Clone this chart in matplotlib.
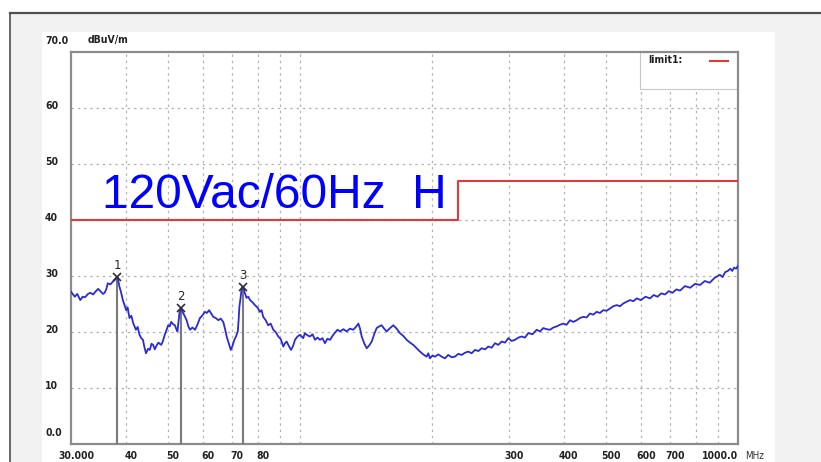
import matplotlib
matplotlib.use('Agg')
import matplotlib.pyplot as plt
import matplotlib.transforms as mtransforms
from matplotlib.lines import Line2D
from matplotlib.patches import Rectangle
from matplotlib.ticker import NullLocator

# Radiated emission scan, horizontal antenna (MHz, dBuV/m).
freq_mhz = [
    30.0, 30.6, 31.0, 31.5, 31.9, 32.3, 32.8, 33.2, 33.7, 34.2, 34.6, 35.1,
    35.5, 35.8, 36.1, 36.4, 36.9, 37.4, 37.9, 38.3, 38.7, 39.0, 39.4, 40.1,
    40.4, 40.8, 41.2, 41.6, 42.2, 42.6, 43.0, 43.4, 43.8, 44.1, 44.5, 45.0,
    45.4, 45.8, 46.2, 46.6, 46.9, 47.5, 48.2, 48.6, 49.1, 49.6, 50.0, 50.4,
    50.8, 51.3, 51.8, 52.2, 52.5, 52.8, 53.1, 53.5, 54.0, 54.5, 55.1, 55.6,
    56.1, 56.8, 57.6, 58.3, 59.1, 59.9, 60.7, 61.3, 62.0, 62.7, 63.4, 64.2,
    65.1, 65.9, 66.8, 67.4, 68.0, 68.8, 69.5, 70.1, 70.8, 71.5, 72.1, 72.4,
    72.7, 73.2, 73.6, 74.2, 74.8, 75.5, 76.2, 76.9, 77.9, 78.9, 79.9, 81.0,
    81.7, 82.4, 83.5, 84.6, 85.7, 86.9, 88.0, 89.2, 90.4, 91.6, 92.4, 93.2,
    94.3, 95.4, 96.4, 97.4, 98.7, 100.0, 101.7, 102.6, 104.0, 105.4, 106.8,
    108.2, 109.6, 111.1, 112.5, 114.0, 115.5, 117.1, 118.6, 120.2, 121.8,
    123.4, 125.6, 127.8, 130.0, 132.3, 134.1, 135.9, 137.1, 138.3, 140.1,
    142.0, 143.9, 145.8, 147.7, 149.6, 151.6, 153.6, 155.6, 157.7, 160.5,
    163.3, 166.2, 169.1, 172.1, 175.2, 178.3, 181.4, 184.6, 187.9, 191.2,
    194.6, 196.3, 198.0, 200.6, 203.3, 206.9, 210.5, 214.2, 218.0, 221.9,
    225.8, 229.8, 233.9, 238.0, 242.2, 246.5, 250.9, 255.4, 259.9, 264.5,
    269.1, 273.9, 278.7, 283.7, 288.7, 293.8, 298.9, 304.2, 309.6, 315.1,
    320.7, 326.3, 332.0, 339.5, 347.0, 353.1, 359.3, 365.6, 372.1, 378.8,
    385.5, 392.3, 399.1, 406.2, 413.4, 420.8, 428.2, 435.7, 443.3, 451.2,
    459.2, 467.3, 475.6, 484.0, 492.5, 501.3, 510.2, 519.2, 528.4, 537.7,
    547.2, 556.9, 566.8, 576.8, 587.1, 600.0, 615.0, 629.7, 642.0, 655.0,
    668.0, 681.4, 695.0, 708.8, 723.0, 737.3, 757.0, 777.5, 798.0, 819.1,
    840.0, 862.0, 885.0, 909.8, 922.0, 935.0, 948.0, 960.0, 970.0, 980.0,
    990.0, 1000.0,
]
level_dbuv = [
    27.2, 26.3, 26.8, 25.7, 26.3, 26.2, 26.8, 27.0, 26.7, 27.3, 27.7, 27.2,
    26.8, 27.0, 27.6, 28.7, 28.5, 29.0, 29.4, 29.9, 28.1, 27.2, 25.7, 23.9,
    24.4, 22.5, 22.9, 21.6, 20.4, 20.9, 19.5, 18.9, 18.6, 17.4, 16.2, 17.0,
    16.8, 17.9, 17.7, 16.9, 17.4, 18.1, 17.7, 18.3, 19.5, 20.4, 21.2, 21.0,
    21.8, 21.4, 21.2, 20.5, 20.1, 21.9, 23.6, 24.3, 23.5, 22.9, 22.1, 21.0,
    20.4, 20.8, 20.4, 21.3, 22.5, 23.0, 23.6, 23.4, 23.9, 23.3, 22.7, 22.5,
    22.1, 22.4, 21.8, 20.6, 19.2, 17.9, 16.8, 17.5, 18.6, 19.3, 20.1, 22.0,
    24.5, 26.2, 27.9, 28.1, 27.0, 26.1, 26.3, 25.7, 25.3, 24.8, 24.4, 23.6,
    23.9, 22.7, 22.1, 21.2, 21.5, 20.4, 20.0, 19.2, 18.7, 17.4, 18.0, 18.3,
    17.5, 16.8, 17.5, 18.6, 19.2, 19.5, 18.9, 19.8, 19.4, 19.2, 19.6,
    18.6, 19.0, 18.6, 18.9, 18.0, 18.8, 18.6, 19.3, 19.9, 20.4,
    20.1, 20.5, 20.1, 20.6, 20.4, 20.9, 21.5, 20.6, 19.2, 18.0,
    17.1, 17.6, 18.3, 19.6, 20.7, 21.0, 21.2, 20.6, 20.1, 20.7,
    21.2, 20.6, 19.8, 19.3, 18.6, 18.1, 17.7, 17.1, 16.5, 16.0,
    15.6, 16.2, 15.3, 15.8, 15.6, 16.0, 15.6, 15.3, 15.9, 15.5,
    15.6, 16.1, 15.9, 16.3, 16.5, 16.2, 16.8, 16.6, 17.1, 16.9,
    17.4, 17.2, 18.0, 17.7, 18.3, 18.1, 18.9, 18.4, 18.6, 19.0,
    19.2, 19.0, 19.8, 19.6, 20.4, 20.1, 20.7, 20.5, 20.4, 20.8,
    21.0, 21.3, 21.5, 21.3, 22.1, 21.8, 22.1, 22.5, 22.7, 22.6,
    23.3, 23.1, 23.6, 23.4, 23.9, 23.8, 24.2, 24.6, 24.8, 24.6,
    25.1, 25.4, 25.7, 25.5, 26.0, 25.7, 26.3, 26.0, 26.6, 26.3,
    26.9, 26.7, 27.3, 27.0, 27.6, 27.4, 28.2, 27.9, 28.6, 28.4,
    29.1, 28.8, 29.7, 30.2, 29.8, 30.7, 30.9, 31.3, 30.9, 31.5,
    31.3, 31.8,
]

# Limit1 line
limit_freq = [30.0, 230.0, 230.0, 1000.0]
limit_level = [40.0, 40.0, 47.0, 47.0]

# Peak markers
marker_id = ['1', '2', '3']
marker_freq = [38.3, 53.5, 74.2]
marker_level = [29.9, 24.3, 28.1]

grid_freq = [40, 50, 60, 70, 80, 90, 100, 200, 300, 400, 500, 600, 700,
             800, 900]
x_labels = [(30, '30.000'), (40, '40'), (50, '50'), (60, '60'), (70, '70'),
            (80, '80'), (300, '300'), (400, '400'), (500, '500'),
            (600, '600'), (700, '700')]
y_labels = [(70, '70.0'), (60, '60'), (50, '50'), (40, '40'), (30, '30'),
            (20, '20'), (10, '10'), (0, '0.0')]

W, H = 821, 462
NARROW = dict(family=['Liberation Sans Narrow', 'DejaVu Sans'],
              fontstretch='condensed', fontweight='bold', color='#202020')

fig = plt.figure(figsize=(W / 100, H / 100), dpi=100, facecolor='white')


def fig_box(x0, y0, x1, y1, **kw):
    return Rectangle((x0 / W, 1 - y1 / H), (x1 - x0) / W, (y1 - y0) / H,
                     transform=fig.transFigure, **kw)


# Window frame behind the plot
fig.add_artist(fig_box(10, 13, W, H, facecolor='#f2f2f2', edgecolor='none',
                       zorder=-10))
fig.add_artist(fig_box(42, 32, 775, H, facecolor='white', edgecolor='none',
                       zorder=-9))
fig.add_artist(Line2D([10 / W, 1], [1 - 13 / H] * 2, color='#505050',
                      lw=1.6, transform=fig.transFigure, zorder=-8))
fig.add_artist(Line2D([10 / W] * 2, [1 - 13 / H, 0], color='#505050',
                      lw=1.2, transform=fig.transFigure, zorder=-8))

ax = fig.add_axes([71 / W, 1 - 444 / H, 667 / W, 392 / H])
ax.set_xscale('log')
ax.set_xlim(30, 1000)
ax.set_ylim(0, 70)
ax.set_xticks(grid_freq)
ax.xaxis.set_minor_locator(NullLocator())
ax.set_yticks(range(10, 70, 10))
ax.tick_params(length=0, labelbottom=False, labelleft=False)
ax.set_axisbelow(True)
ax.grid(True, color='#b4b4b4', linestyle=(0, (2, 3)), linewidth=0.9)
for s in ax.spines.values():
    s.set_color('#8c8c8c')
    s.set_linewidth(1.6)

# Axis labels drawn as plain text
ytrans = mtransforms.blended_transform_factory(fig.transFigure, ax.transData)
for v, s in y_labels:
    dy = 2.0 if v in (0, 70) else 0.3
    ax.text(45 / W, v + dy, s, transform=ytrans, ha='left', va='center',
            fontsize=7.5, clip_on=False, **NARROW)
ax.text(88 / W, 72.1, 'dBuV/m', transform=ytrans, ha='left', va='center',
        fontsize=7.5, clip_on=False, **NARROW)

for f, s in x_labels:
    ax.annotate(s, (f, 0), xycoords=('data', 'axes fraction'),
                xytext=(5, -12), textcoords='offset pixels', ha='center',
                va='center', fontsize=7.5, **NARROW)
ax.annotate('1000.0', (1000, 0), xycoords=('data', 'axes fraction'),
            xytext=(0, -12), textcoords='offset pixels', ha='right',
            va='center', fontsize=7.5, **NARROW)
ax.annotate('MHz', (1000, 0), xycoords=('data', 'axes fraction'),
            xytext=(7, -12), textcoords='offset pixels', ha='left',
            va='center', fontsize=7, family=NARROW['family'],
            fontstretch='condensed', color='#303030')

# Limit, trace and markers
ax.plot(limit_freq, limit_level, color='#e03a3a', lw=1.5, zorder=3)
ax.plot(freq_mhz, level_dbuv, color='#2b2bd6', lw=1.3, zorder=4)
ax.vlines(marker_freq, 0, marker_level, color='#7a7a7a', lw=1.5, zorder=3)
ax.plot(marker_freq, marker_level, 'x', color='#303030', ms=6, mew=1.2,
        zorder=5)
for m, f, v in zip(marker_id, marker_freq, marker_level):
    ax.annotate(m, (f, v), xytext=(0, 11), textcoords='offset pixels',
                ha='center', va='center', fontsize=8.5, color='#2a2a2a')

# Legend box
ax.add_patch(Rectangle((0.853, 0.9056), 0.147, 0.0944, transform=ax.transAxes,
                       facecolor='white', edgecolor='#c8c8c8', lw=0.8,
                       zorder=2))
ax.text(0.865, 0.979, 'limit1:', transform=ax.transAxes, ha='left',
        va='center', fontsize=7.5, zorder=3, **NARROW)
ax.plot([0.958, 0.985], [0.977, 0.977], color='#e03a3a', lw=1.5,
        transform=ax.transAxes, zorder=3)

ax.text(35.3, 42.1, '120Vac/60Hz  H', color='#0000ff', fontsize=34.5,
        family='Liberation Sans', ha='left', va='baseline', zorder=6)

fig.savefig('out.png', dpi=100)
